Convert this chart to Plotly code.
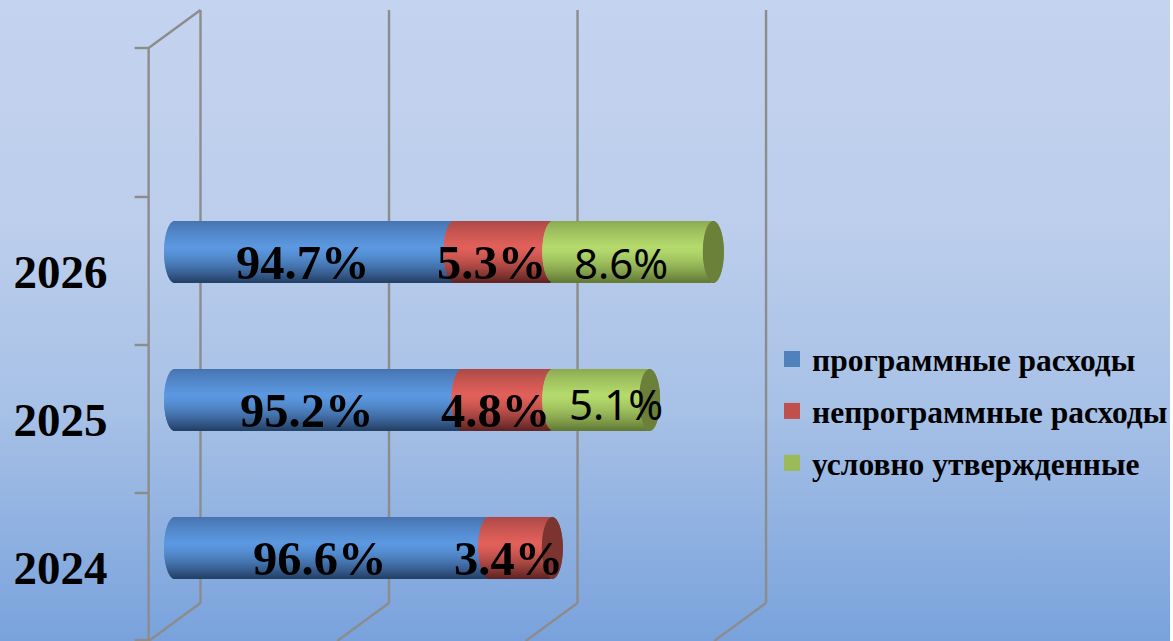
import base64
import math
import plotly.graph_objects as go

W, H = 1173, 641

# --- data -------------------------------------------------------------
years = ["2024", "2025", "2026"]
series_names = ["программные расходы", "непрограммные расходы", "условно утвержденные"]
# bar lengths as drawn (axis units, 50 per gridline)
programmnye = [83.3, 76.2, 74.1]
neprogrammnye = [16.9, 24.1, 26.2]
uslovno = [None, 25.7, 42.6]
# printed labels
programmnye_labels = ["96.6%", "95.2%", "94.7%"]
neprogrammnye_labels = ["3.4%", "4.8%", "5.3%"]
uslovno_labels = [None, "5.1%", "8.6%"]
grid_values = [6.88, 56.88, 106.88, 156.88]

# --- style ------------------------------------------------------------
series_values = [programmnye, neprogrammnye, uslovno]
series_labels = [programmnye_labels, neprogrammnye_labels, uslovno_labels]
legend_colors = ["#4F81BD", "#C0504D", "#9BBB59"]
shade = [
    ((0x46, 0x72, 0xAE), (0x5B, 0x98, 0xE0), (0x24, 0x40, 0x66)),
    ((0xA8, 0x48, 0x46), (0xE2, 0x60, 0x5A), (0x5E, 0x24, 0x22)),
    ((0x8A, 0xA8, 0x50), (0xB4, 0xDA, 0x6C), (0x62, 0x7A, 0x36)),
]
cap_colors = [None, "#7C3430", "#6B8039"]
PX_PER_UNIT = 3.78
X_ZERO_PX = 175
BAR_H = 0.412
RX = 10.5 / PX_PER_UNIT
N = 61
GRID = "#8C8C8C"
SERIF = "Liberation Serif"


def mix(a, b, k):
    return tuple(a[i] + (b[i] - a[i]) * k for i in range(3))


def shade_color(tri, t):
    top, mid, bot = tri
    if t < 0.42:
        c = mix(top, mid, (t / 0.42) ** 0.8)
    else:
        c = mix(mid, bot, ((t - 0.42) / 0.58) ** 1.5)
    return "rgb(%d,%d,%d)" % tuple(round(v) for v in c)


def px(x):
    return x / W


def py(y):
    return (H - y) / H


fig = go.Figure()

# cylinders: stacked thin strips so the body shows the round shading
cum_start = [[0.0] * 3 for _ in series_values]
for s in range(1, 3):
    for i in range(3):
        cum_start[s][i] = cum_start[s - 1][i] + (series_values[s - 1][i] or 0)
last_series = [max(s for s in range(3) if series_values[s][i] is not None) for i in range(3)]

for k in range(N):
    t0, t1 = k / N, (k + 1) / N
    tm = (t0 + t1) / 2
    round_dx = RX * math.sqrt(max(0.0, 1 - (2 * tm - 1) ** 2))
    offset = BAR_H / 2 - t1 * BAR_H
    width = BAR_H / N * 1.25
    for s, vals in enumerate(series_values):
        xs, bases = [], []
        for i, v in enumerate(vals):
            if v is None:
                xs.append(None)
                bases.append(None)
            else:
                xs.append(v)
                bases.append(cum_start[s][i] - round_dx)
        fig.add_trace(go.Bar(
            orientation="h", y=years, x=xs, base=bases, offset=offset, width=width,
            marker=dict(color=shade_color(shade[s], tm), line=dict(width=0)),
            showlegend=False, hoverinfo="skip",
        ))
    # visible end cap of the last segment of each bar
    for s in (1, 2):
        xs, bases = [], []
        for i in range(3):
            if last_series[i] == s:
                xs.append(2 * round_dx)
                bases.append(cum_start[s][i] + series_values[s][i] - round_dx)
            else:
                xs.append(None)
                bases.append(None)
        fig.add_trace(go.Bar(
            orientation="h", y=years, x=xs, base=bases, offset=offset, width=width,
            marker=dict(color=cap_colors[s], line=dict(width=0)),
            showlegend=False, hoverinfo="skip",
        ))

# legend entries
for name, color in zip(series_names, legend_colors):
    fig.add_trace(go.Scatter(
        x=[None], y=[None], mode="markers", name=name, legendgroup=name,
        marker=dict(symbol="square", size=16, color=color),
    ))

# value labels
annotations = []
for s, labels in enumerate(series_labels):
    for i, lab in enumerate(labels):
        if lab is None:
            continue
        mid = cum_start[s][i] + series_values[s][i] / 2
        is_green = s == 2
        xshift, yshift = -12, -10
        if is_green and years[i] == "2025":
            xshift, yshift = 15, -3
        annotations.append(dict(
            x=mid, y=i, xref="x", yref="y", text=lab, showarrow=False,
            xanchor="center", yanchor="middle", xshift=xshift, yshift=yshift,
            font=dict(
                family="Noto Sans" if is_green else SERIF,
                size=42 if is_green else 48.5,
                color="black",
                weight="normal" if is_green else "bold",
            ),
        ))

# 3-D wall frame
line = dict(color=GRID, width=2.4)
shapes = []
for v in grid_values:
    shapes.append(dict(type="line", xref="x", yref="paper", x0=v, x1=v, y0=py(10), y1=py(603),
                       line=line, layer="below"))
    back = X_ZERO_PX + v * PX_PER_UNIT
    shapes.append(dict(type="line", xref="paper", yref="paper", x0=px(back), x1=px(back - 52),
                       y0=py(603), y1=py(641), line=line, layer="below"))
shapes.append(dict(type="line", xref="paper", yref="paper", x0=px(149), x1=px(149),
                   y0=py(48), y1=py(641), line=line, layer="below"))
shapes.append(dict(type="line", xref="paper", yref="paper", x0=px(149), x1=px(201),
                   y0=py(48), y1=py(10), line=line, layer="below"))
for tick in (48, 197, 345, 493, 640):
    shapes.append(dict(type="line", xref="paper", yref="paper", x0=px(135), x1=px(149),
                       y0=py(tick), y1=py(tick), line=line, layer="below"))

# background gradient
svg = (
    '<svg xmlns="http://www.w3.org/2000/svg" width="1173" height="641" preserveAspectRatio="none">'
    '<defs><linearGradient id="g" x1="0" y1="0" x2="0" y2="1">'
    '<stop offset="0" stop-color="#C4D3EF"/><stop offset="0.35" stop-color="#BCCEEC"/>'
    '<stop offset="0.65" stop-color="#A6C0E6"/><stop offset="1" stop-color="#79A2DC"/>'
    '</linearGradient></defs><rect width="1173" height="641" fill="url(#g)"/></svg>'
)
bg = "data:image/svg+xml;base64," + base64.b64encode(svg.encode()).decode()

fig.update_layout(
    width=W, height=H, margin=dict(l=0, r=0, t=0, b=0),
    barmode="overlay",
    paper_bgcolor="rgba(0,0,0,0)", plot_bgcolor="rgba(0,0,0,0)",
    images=[dict(source=bg, xref="paper", yref="paper", x=0, y=1, sizex=1, sizey=1,
                 sizing="stretch", layer="below", xanchor="left", yanchor="top")],
    xaxis=dict(visible=False, domain=[149 / W, 1],
               range=[(149 - X_ZERO_PX) / PX_PER_UNIT, (W - X_ZERO_PX) / PX_PER_UNIT]),
    yaxis=dict(type="category", categoryorder="array", categoryarray=years,
               range=[(548 - 641) / 148, 548 / 148], showgrid=False, zeroline=False,
               showline=False, ticks="", ticklabelstandoff=40, ticklabelshift=20,
               tickfont=dict(family=SERIF, size=47, color="black", weight="bold")),
    legend=dict(x=774 / W, xanchor="left", y=py(332), yanchor="top",
                bgcolor="rgba(0,0,0,0)", tracegroupgap=8, itemclick=False,
                font=dict(family=SERIF, size=31.5, color="black", weight="bold")),
    shapes=shapes, annotations=annotations,
)

fig.write_html(
    "out.html",
    config={"displayModeBar": False},
    post_script="document.body.style.margin='0';document.body.style.overflow='hidden';",
)
